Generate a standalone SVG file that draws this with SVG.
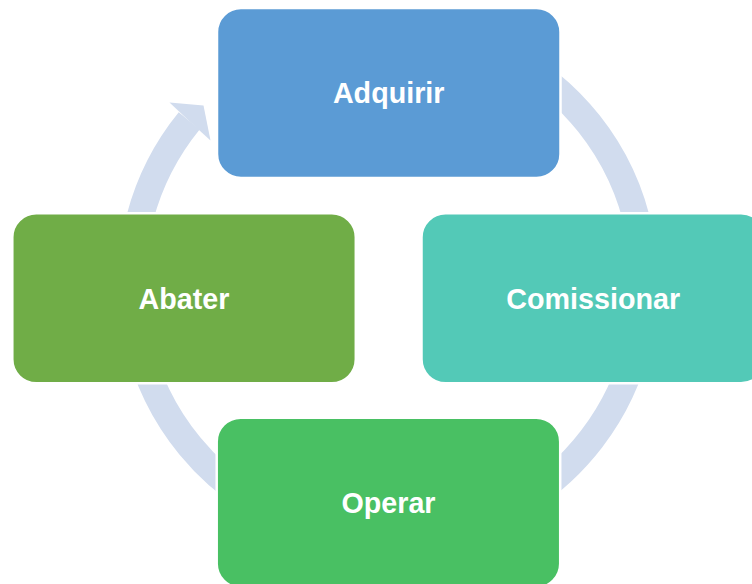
<svg xmlns="http://www.w3.org/2000/svg" width="752" height="584" viewBox="0 0 752 584">
  <style>
    .box { stroke: #ffffff; stroke-width: 2.5; }
    .label { font-family: "Liberation Sans", Arial, sans-serif; font-weight: bold; font-size: 28.7px; fill: #ffffff; text-anchor: middle; }
    .ring { fill: none; stroke: #D1DCEE; stroke-width: 27; }
  </style>
  <rect width="752" height="584" fill="#ffffff"/>

  <!-- cycle ring with arrowhead, drawn behind the steps -->
  <g id="connectors">
    <path class="ring" d="M 388 26.5 A 256.5 256.5 0 1 1 189.2 120.9"/>
    <polygon points="169.5,102.5 203.5,105.5 210.5,140.5 189.2,120.9" fill="#D1DCEE"/>
  </g>

  <g id="adquirir">
    <rect class="box" x="217" y="8" width="343.5" height="170" rx="24" fill="#5B9BD5"/>
    <text class="label" x="388.7" y="103.3">Adquirir</text>
  </g>

  <g id="comissionar">
    <rect class="box" x="421.5" y="213.3" width="343.5" height="170" rx="24" fill="#53C9B7"/>
    <text class="label" x="593.2" y="308.5">Comissionar</text>
  </g>

  <g id="abater">
    <rect class="box" x="12.3" y="213.3" width="343.5" height="170" rx="24" fill="#70AD47"/>
    <text class="label" x="184" y="308.5">Abater</text>
  </g>

  <g id="operar">
    <rect class="box" x="216.7" y="417.7" width="343.5" height="170" rx="24" fill="#49C063"/>
    <text class="label" x="388.5" y="512.8">Operar</text>
  </g>
</svg>
